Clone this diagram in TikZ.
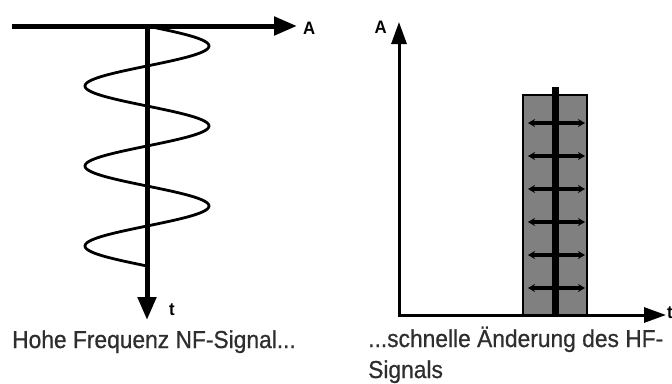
\documentclass[tikz,border=0pt]{standalone}
\usepackage{fontspec}
\setmainfont{Liberation Sans}[FakeStretch=0.93]
\newfontfamily\capfont{Liberation Sans}[FakeStretch=0.93, FakeBold=0.7]
\usetikzlibrary{positioning,arrows.meta}

\begin{document}
\begin{tikzpicture}[
  x=1pt, y=-1pt,
  font=\fontsize{24.5}{31}\selectfont,
  axis/.style={line width=5pt, -{Triangle[length=23pt,width=18pt]}},
  thinaxis/.style={line width=3pt, {Triangle[length=22pt,width=15pt]}-{Triangle[length=22pt,width=15pt]}},
  wave/.style={line width=2.8pt},
  lbl/.style={font=\fontsize{18}{20}\selectfont\bfseries, inner sep=0pt},
  caption/.style={font=\capfont\fontsize{24.5}{31}\selectfont, text=black!82, inner sep=0pt},
  bar/.style={draw, line width=2.8pt, fill={rgb,255:red,128;green,128;blue,128}, minimum width=64pt, minimum height=220pt, inner sep=0pt},
  swing/.style={line width=3.2pt, {Stealth[length=7pt,width=8pt]}-{Stealth[length=7pt,width=8pt]}}
]
\useasboundingbox (0,0) rectangle (672,383);

\coordinate (h0) at (12,26);
\coordinate (h1) at (297,26);
\coordinate (v0) at (147,26);
\coordinate (v1) at (147,320);
\draw[wave] plot[variable=\t, domain=0:240, samples=241, smooth] ({147+62*sin(4.5*\t)}, {26+\t});
\draw[axis] (h0) -- (h1);
\draw[axis] (v0) -- (v1);
\node[lbl, anchor=west] (hA) at (303,28) {A};
\node[lbl, anchor=west] (vt) at (169,310) {t};
\node[caption, anchor=base west] (capL) at (12,348) {Hohe Frequenz NF-Signal...};

\coordinate (o) at (399,315);
\coordinate (ytip) at (399,22);
\coordinate (xtip) at (666,315);
\draw[thinaxis] (ytip) -- (o) -- (xtip);
\node[lbl, anchor=east] (yA) at (387,27) {A};
\node[lbl, anchor=west] (xt) at (667,313) {t};

\node[bar] (bar) at (555,205) {};
\coordinate (mast) at (555,87);
\draw[line width=7pt] (mast) -- (bar.south);
\foreach \y in {123,156,189,222,255,288}
  \draw[swing] (528,\y) -- (585,\y);
\node[caption, anchor=base west, align=left] (capR) at (368,378) {...schnelle Änderung des HF-\\Signals};
\end{tikzpicture}
\end{document}
